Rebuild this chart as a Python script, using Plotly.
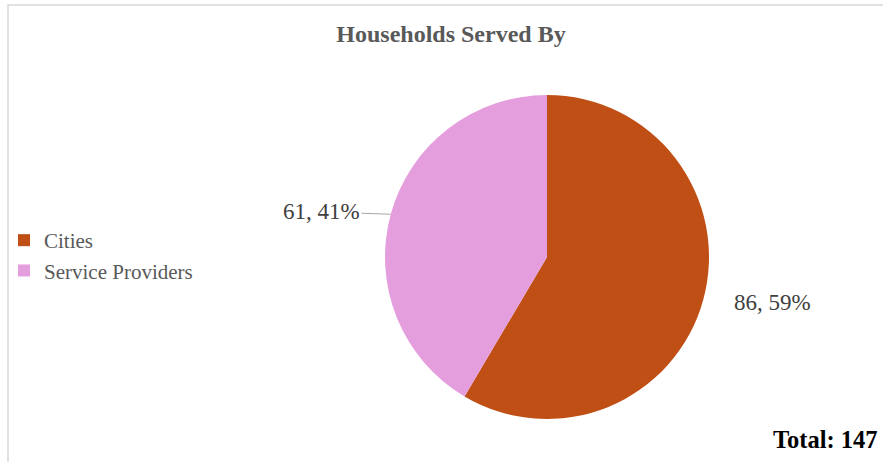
import math
import plotly.graph_objects as go

# Data
categories = ["Cities", "Service Providers"]
households = [86, 61]
slice_colors = ["#C04F15", "#E59EDD"]
show_leader = [False, True]

W, H = 883, 462
CX, CY, R = 547, 257, 162          # pie centre and radius in pixels
LABEL_DIST = 1.42                   # data label distance, in radii
LABEL_TURN = -4.0                   # label angle offset from slice mid-angle, degrees

SERIF = "Liberation Serif, Times New Roman, serif"
total = sum(households)

fig = go.Figure(
    go.Pie(
        labels=categories,
        values=households,
        sort=False,
        direction="clockwise",
        rotation=0,
        marker=dict(colors=slice_colors, line=dict(width=0)),
        textinfo="none",
        hoverinfo="label+value+percent",
        domain=dict(x=[(CX - R) / W, (CX + R) / W],
                    y=[1 - (CY + R) / H, 1 - (CY - R) / H]),
    )
)

# Data labels "value, percent" placed outside each slice near its mid-angle
annotations = []
cum = 0
for cat, v, leader in zip(categories, households, show_leader):
    mid_deg = (cum + v / 2) / total * 360
    cum += v
    mid = math.radians(mid_deg)
    lab = math.radians(mid_deg + LABEL_TURN)
    lx = CX + LABEL_DIST * R * math.sin(lab)
    ly = CY - LABEL_DIST * R * math.cos(lab)
    text = f"{v}, {round(100 * v / total)}%"
    font = dict(family=SERIF, size=23, color="#404040")
    if leader:
        ex, ey = CX + R * math.sin(mid), CY - R * math.cos(mid)
        annotations.append(dict(
            x=ex / W, y=1 - ey / H, xref="paper", yref="paper",
            ax=lx - ex, ay=ly - ey, text=text, font=font,
            showarrow=True, arrowhead=0, arrowwidth=1, arrowcolor="#a6a6a6",
        ))
    else:
        annotations.append(dict(
            x=lx / W, y=1 - ly / H, xref="paper", yref="paper",
            xanchor="center", yanchor="middle",
            text=text, font=font, showarrow=False,
        ))

annotations.append(dict(
    x=880 / W, y=1 - 439 / H, xref="paper", yref="paper",
    xanchor="right", yanchor="middle", showarrow=False,
    text=f"<b>Total: {total}</b>",
    font=dict(family=SERIF, size=24.5, color="#000000"),
))

fig.update_layout(
    width=W, height=H, autosize=False,
    margin=dict(l=0, r=0, t=0, b=0),
    paper_bgcolor="white", plot_bgcolor="white",
    title=dict(text="<b>Households Served By</b>", x=451 / W, xanchor="center",
               y=1 - 34 / H, yanchor="middle",
               font=dict(family=SERIF, size=24, color="#595959")),
    showlegend=True,
    legend=dict(x=4 / W, xanchor="left", y=1 - 220 / H, yanchor="top",
                font=dict(family=SERIF, size=21, color="#595959"),
                bgcolor="rgba(0,0,0,0)"),
    annotations=annotations,
    shapes=[dict(type="rect", xref="paper", yref="paper",
                 x0=8 / W, x1=1.05, y0=-0.05, y1=1 - 5 / H,
                 line=dict(color="#d9d9d9", width=1.5), layer="below")],
)

fig.write_html("out.html")
